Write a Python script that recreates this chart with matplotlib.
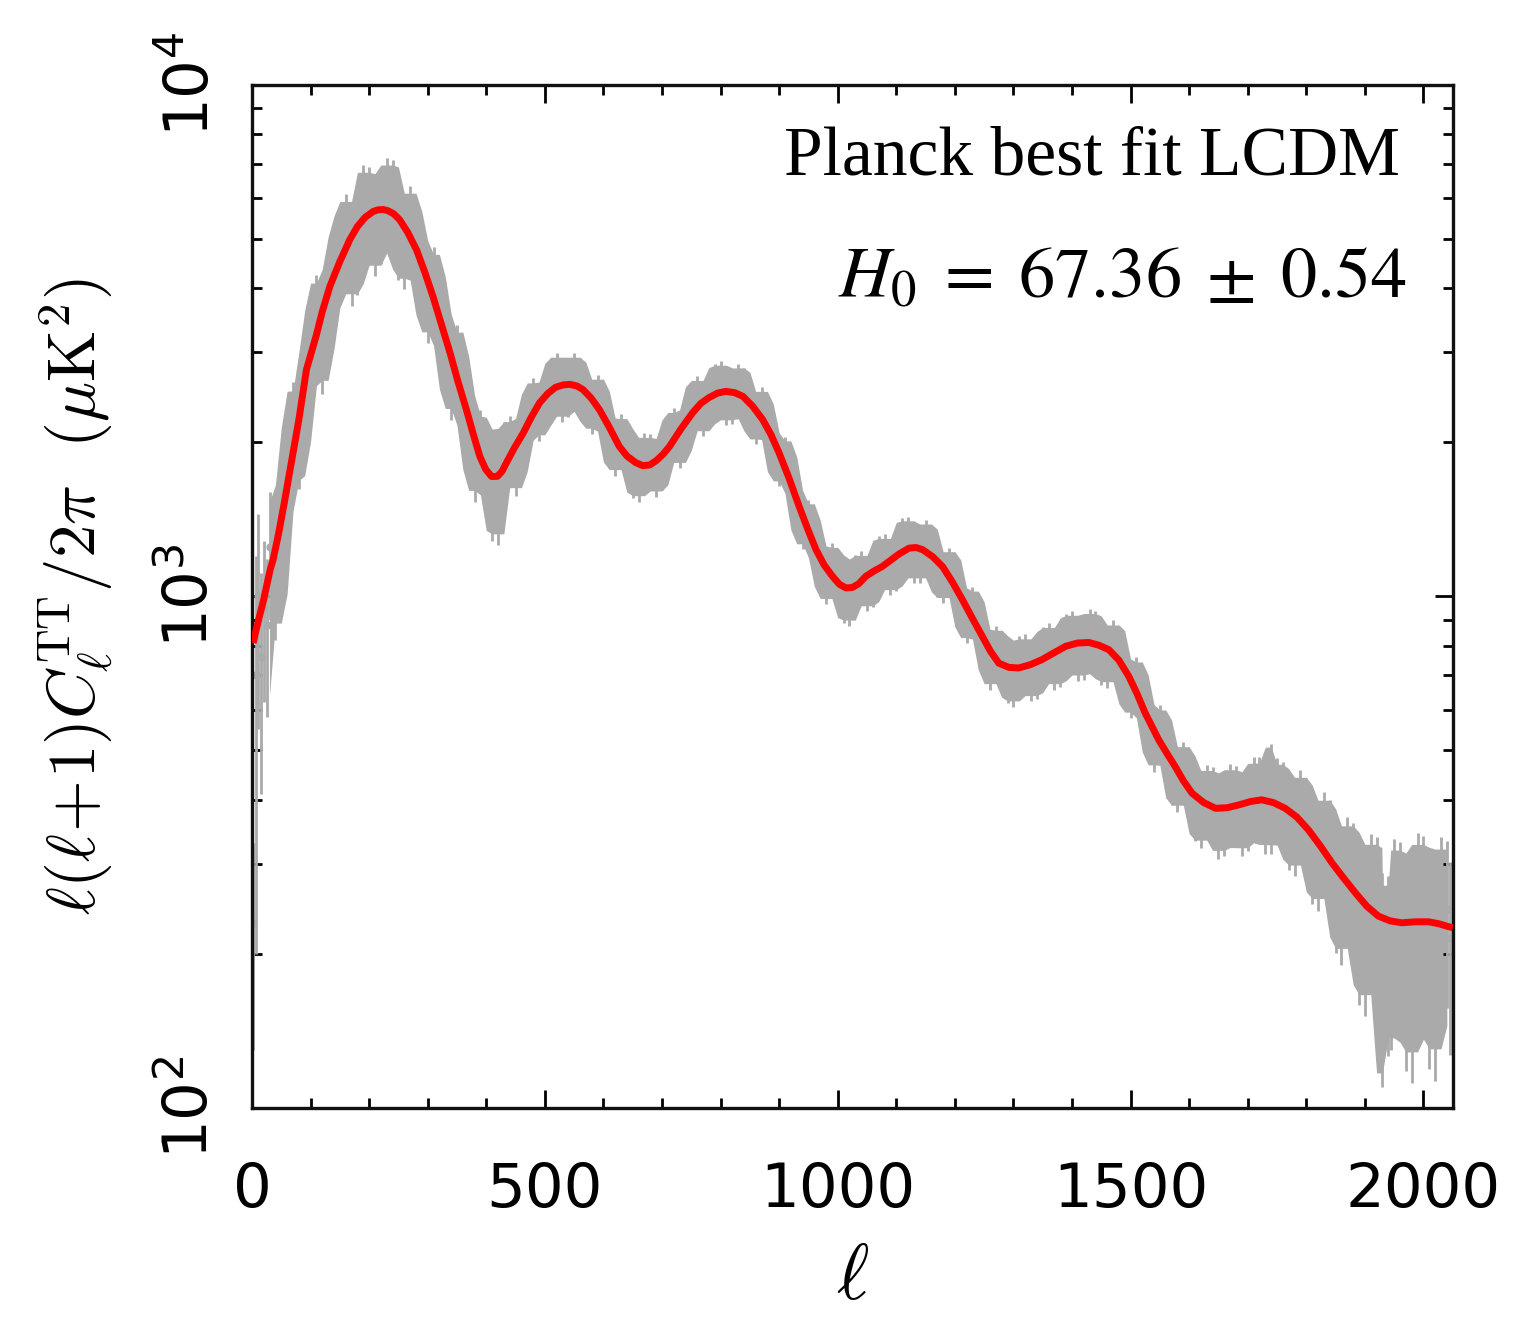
import numpy as np
import matplotlib.pyplot as plt
from matplotlib.ticker import FixedLocator, NullFormatter, MultipleLocator

# Best-fit LCDM curve
ell_fit = [2, 10, 20, 31, 36, 45, 55, 65, 80, 93, 110, 120, 133, 150, 167, 180,
           193, 207, 215, 224, 232, 242, 252, 266, 281, 295, 309, 323, 338,
           352, 366, 378, 389, 399, 409, 419, 427, 434, 448, 463, 477, 491,
           505, 518, 531, 543, 555, 565, 579, 593, 610, 627, 640, 655, 667,
           679, 690, 702, 713, 732, 752, 766, 780, 795, 809, 824, 838, 855,
           872, 886, 900, 917, 934, 948, 963, 977, 991, 1003, 1014, 1025, 1036,
           1048, 1062, 1076, 1090, 1105, 1122, 1134, 1145, 1162, 1179, 1196,
           1213, 1230, 1247, 1261, 1275, 1292, 1309, 1329, 1349, 1369, 1389,
           1409, 1429, 1446, 1463, 1480, 1497, 1511, 1525, 1537, 1548, 1562,
           1576, 1590, 1605, 1625, 1645, 1665, 1685, 1705, 1724, 1744, 1764,
           1784, 1804, 1824, 1844, 1864, 1884, 1903, 1923, 1943, 1963, 1986,
           2009, 2026, 2043, 2050]
dl_fit = [810, 888, 985, 1127, 1178, 1318, 1520, 1766, 2213, 2773, 3243, 3600,
          4034, 4510, 4977, 5280, 5500, 5651, 5690, 5700, 5670, 5590, 5446,
          5140, 4752, 4300, 3854, 3410, 2993, 2620, 2317, 2070, 1876, 1770,
          1714, 1715, 1755, 1820, 1950, 2084, 2240, 2388, 2490, 2560, 2588,
          2595, 2575, 2535, 2440, 2317, 2140, 1963, 1880, 1825, 1800, 1805,
          1840, 1895, 1963, 2120, 2281, 2380, 2444, 2495, 2514, 2500, 2459,
          2350, 2213, 2070, 1905, 1700, 1500, 1360, 1233, 1150, 1094, 1055,
          1038, 1040, 1058, 1094, 1120, 1143, 1175, 1210, 1242, 1245, 1233,
          1195, 1143, 1065, 984, 905, 834, 780, 740, 726, 724, 735, 752, 775,
          798, 810, 812, 802, 786, 750, 697, 645, 591, 555, 524, 493, 465,
          436, 412, 395, 385, 386, 391, 397, 400, 395, 385, 370, 349, 325, 301,
          281, 263, 248, 237, 232, 230, 231, 231, 229, 226, 225]

# Planck TT data points (grey), first set of bins
ell_a = [2, 6, 10, 15, 20, 25, 30, 50, 70, 90, 110, 130, 150, 170, 190, 210,
         230, 250, 270, 290, 310, 330, 350, 370, 390, 410, 430, 450, 470,
         490, 510, 530, 550, 570, 590, 610, 630, 650, 670, 690, 710, 730,
         750, 770, 790, 810, 830, 850, 870, 890, 910, 930, 950, 970, 990,
         1010, 1030, 1050, 1070, 1090, 1110, 1130, 1150, 1170, 1190, 1210,
         1230, 1250, 1270, 1290, 1310, 1330, 1350, 1370, 1390, 1410, 1430,
         1450, 1470, 1490, 1510, 1530, 1550, 1570, 1590, 1610, 1630, 1650,
         1670, 1690, 1710, 1730, 1750, 1770, 1790, 1810, 1830, 1850, 1870,
         1890, 1910, 1929, 1930, 1950, 1970, 1990, 2010, 2030, 2045]
dl_a = [230, 700, 1000, 760, 950, 880, 1250, 1330, 2100, 2500, 3500, 3700,
        4800, 4700, 5900, 5300, 6100, 5200, 5350, 4250, 4050, 3050, 2850,
        2120, 1950, 1600, 1880, 1870, 2250, 2300, 2620, 2480, 2700, 2420,
        2440, 2030, 2040, 1770, 1880, 1770, 2040, 2010, 2370, 2310, 2590,
        2420, 2590, 2300, 2330, 1920, 1860, 1480, 1400, 1150, 1150, 1000,
        1090, 1050, 1190, 1130, 1290, 1190, 1280, 1120, 1130, 955, 945, 790,
        790, 700, 755, 705, 785, 745, 835, 775, 850, 765, 805, 685, 680,
        555, 545, 455, 460, 390, 410, 365, 410, 372, 420, 380, 415, 362,
        385, 322, 340, 275, 295, 235, 265, 145, 210, 255, 200, 260, 205,
        250, 215]
err_a = [100, 500, 450, 350, 330, 300, 350, 400, 520, 620, 740, 820, 920,
         1000, 1050, 1080, 1080, 1050, 980, 880, 760, 640, 540, 440, 360, 320,
         310, 300, 290, 290, 290, 290, 290, 280, 270, 250, 230, 215, 205,
         205, 215, 230, 245, 255, 260, 260, 255, 245, 230, 210, 190, 165,
         145, 130, 120, 115, 115, 115, 120, 125, 130, 130, 130, 125, 115, 105,
         98, 90, 85, 82, 82, 82, 85, 88, 90, 92, 94, 94, 92, 86, 80, 74, 68,
         64, 60, 58, 58, 58, 60, 62, 64, 66, 68, 70, 72, 72, 74, 74, 76, 76,
         78, 35, 78, 80, 82, 84, 86, 88, 88]

# second, interleaved set of bins
ell_b = [40, 60, 80, 100, 120, 140, 160, 180, 200, 220, 240, 260, 280, 300,
         320, 340, 360, 380, 400, 420, 440, 460, 480, 500, 520, 540, 560, 580,
         600, 620, 640, 660, 680, 700, 720, 740, 760, 780, 800, 820, 840, 860,
         880, 900, 920, 940, 960, 980, 1000, 1020, 1040, 1060, 1080, 1100,
         1120, 1140, 1160, 1180, 1200, 1220, 1240, 1260, 1280, 1300, 1320,
         1340, 1360, 1380, 1400, 1420, 1440, 1460, 1480, 1500, 1520, 1540,
         1560, 1580, 1600, 1620, 1640, 1660, 1680, 1700, 1720, 1739, 1740,
         1760, 1780, 1800, 1820, 1840, 1860, 1880, 1900, 1920, 1940, 1944,
         1960, 1980, 2000, 2020, 2040]
dl_b = [1150, 1800, 2120, 3100, 3250, 4350, 5150, 4900, 5850, 5550, 6050,
        5000, 4900, 3950, 3650, 2800, 2550, 1930, 1850, 1580, 1950, 1990,
        2380, 2390, 2700, 2530, 2640, 2350, 2310, 1960, 1950, 1740, 1870,
        1820, 2110, 2120, 2440, 2380, 2620, 2430, 2540, 2220, 2200, 1840,
        1730, 1390, 1300, 1090, 1110, 990, 1110, 1070, 1200, 1150, 1300, 1190,
        1250, 1090, 1090, 910, 900, 745, 770, 690, 760, 715, 800, 755, 845,
        780, 840, 755, 785, 660, 640, 525, 520, 440, 440, 380, 405, 370, 405,
        380, 420, 475, 380, 405, 355, 370, 315, 325, 265, 285, 228, 260, 205,
        165, 250, 195, 255, 200, 245]
err_b = [330, 420, 500, 650, 760, 860, 950, 1020, 1060, 1080, 1070, 1020, 940,
         830, 700, 590, 490, 400, 340, 320, 305, 295, 290, 290, 290, 290, 285,
         275, 260, 240, 220, 210, 205, 210, 220, 240, 250, 258, 260, 258, 250,
         238, 220, 200, 178, 155, 138, 125, 118, 115, 115, 118, 122, 128, 130,
         130, 128, 120, 110, 100, 94, 88, 84, 82, 82, 84, 86, 89, 91, 93, 94,
         93, 89, 83, 77, 71, 66, 62, 59, 58, 58, 59, 61, 63, 65, 40, 67, 69,
         71, 72, 73, 74, 75, 76, 77, 78, 79, 35, 81, 83, 85, 87, 88]

x_ticks = [0, 500, 1000, 1500, 2000]
y_ticks = [100, 1000, 10000]
y_ticklabels = [r'$10^2$', r'$10^3$', r'$10^4$']

fig = plt.figure(figsize=(15.18, 13.22), dpi=100)
ax = fig.add_axes([0.166, 0.162, 0.791, 0.774])

grey = '#aaaaaa'
ell_all = np.array(ell_a + ell_b, dtype=float)
order = np.argsort(ell_all, kind='stable')
ell_all = ell_all[order]
d = np.array(dl_a + dl_b, dtype=float)[order]
e = np.array(err_a + err_b, dtype=float)[order]

# envelope of neighbouring bins -> solid band with ragged edges
lo = d - 0.8 * e
hi = d + 0.8 * e
lo_env = np.minimum(np.minimum(lo[:-2], lo[1:-1]), lo[2:])
hi_env = np.maximum(np.maximum(hi[:-2], hi[1:-1]), hi[2:])
sel = ell_all[1:-1] > 28
ax.fill_between(ell_all[1:-1][sel], lo_env[sel], hi_env[sel], color=grey, lw=0, zorder=1)
ax.errorbar(ell_all, d, yerr=e, fmt='o', ms=5, color=grey, ecolor=grey,
            elinewidth=2, capsize=0, zorder=2)
ax.plot(ell_fit, dl_fit, color='red', lw=5, zorder=3, solid_capstyle='butt',
        solid_joinstyle='round')

ax.set_yscale('log')
ax.set_xlim(0, 2050)
ax.set_ylim(100, 10000)

ax.xaxis.set_major_locator(FixedLocator(x_ticks))
ax.xaxis.set_minor_locator(MultipleLocator(100))
ax.set_xticklabels([str(t) for t in x_ticks], fontsize=44, family='DejaVu Sans')
ax.yaxis.set_major_locator(FixedLocator(y_ticks))
ax.yaxis.set_minor_locator(FixedLocator([k * 10 ** p for p in (2, 3) for k in range(2, 10)]))
ax.yaxis.set_minor_formatter(NullFormatter())
ax.set_yticklabels(y_ticklabels, fontsize=44, rotation=90, va='center')
for lab in ax.get_yticklabels():
    lab.set_math_fontfamily('dejavusans')

ax.tick_params(which='both', direction='in', top=True, right=True, width=2, color='black')
ax.tick_params(which='major', length=13)
ax.tick_params(which='minor', length=7)
ax.tick_params(axis='x', pad=38)
ax.tick_params(axis='y', pad=22)
for s in ax.spines.values():
    s.set_linewidth(2.4)
    s.set_color('#111111')

ax.set_xlabel(r'$\ell$', fontsize=56, math_fontfamily='cm', labelpad=14)
ax.set_ylabel(r'$\ell(\ell\!+\!1)C_\ell^{\rm TT}/2\pi\ \ (\mu{\rm K}^2)$', fontsize=48,
              math_fontfamily='cm', labelpad=34)

ax.text(0.956, 0.912, 'Planck best fit LCDM', transform=ax.transAxes, ha='right',
        va='baseline', fontsize=50, family='Liberation Serif')
ax.text(0.962, 0.793, r'$H_0 \;=\; 67.36 \;\pm\; 0.54$', transform=ax.transAxes,
        ha='right', va='baseline', fontsize=52, math_fontfamily='stix')

fig.savefig('out.png', dpi=100)
